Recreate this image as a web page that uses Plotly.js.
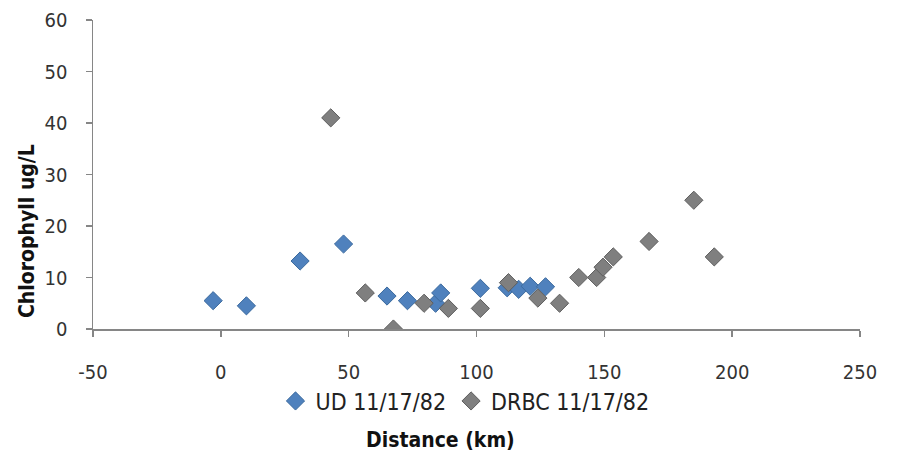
<!DOCTYPE html>
<html>
<head>
<meta charset="utf-8">
<script src="https://cdn.plot.ly/plotly-3.0.1.min.js"></script>
<style>html,body{margin:0;padding:0;background:#fff;}#chart{width:909px;height:456px;}</style>
</head>
<body>
<div id="chart"></div>
<script>
const udName = "UD 11/17/82";
const udX = [-3, 10, 31, 48, 65, 73, 84, 86, 101.5, 112, 116.5, 121, 127];
const udY = [5.5, 4.5, 13.2, 16.5, 6.4, 5.5, 5, 7, 7.9, 8, 7.7, 8.3, 8.2];
const drbcName = "DRBC 11/17/82";
const drbcX = [43, 56.5, 67.5, 79.5, 89, 101.5, 112.5, 124, 132.5, 140, 147, 149.5, 153.5, 167.5, 185, 193];
const drbcY = [41, 7, 0, 5, 4, 4, 9, 6, 5, 10, 10, 12, 14, 17, 25, 14];
const xTickVals = [-50, 0, 50, 100, 150, 200, 250];
const xTickText = ["-50", "0", "50", "100", "150", "200", "250"];
const yTickVals = [0, 10, 20, 30, 40, 50, 60];
const xTitle = "Distance (km)";
const yTitle = "Chlorophyll ug/L";

const FONT = "DejaVu Sans Condensed, DejaVu Sans, sans-serif";
const axisColor = "#868686";

const traces = [
  {x: udX, y: udY, name: udName, type: "scatter", mode: "markers",
   marker: {symbol: "diamond", size: 14, color: "#4F81BD", line: {color: "#3B6A9E", width: 1}}},
  {x: drbcX, y: drbcY, name: drbcName, type: "scatter", mode: "markers",
   marker: {symbol: "diamond", size: 14, color: "#7F7F7F", line: {color: "#5E5E5E", width: 1}}}
];

const layout = {
  width: 909, height: 456,
  margin: {l: 93, r: 49, t: 20, b: 127},
  paper_bgcolor: "#fff", plot_bgcolor: "#fff",
  font: {family: FONT, size: 20, color: "#3a3a3a"},
  showlegend: true,
  legend: {orientation: "h", x: 0.485, xanchor: "center", y: -0.233, yanchor: "middle",
           font: {family: FONT, size: 23, color: "#222"}, itemwidth: 30, tracegroupgap: 0},
  xaxis: {range: [-50, 250], tickvals: xTickVals, ticktext: xTickText, showgrid: false, zeroline: false,
          showline: true, linecolor: axisColor, linewidth: 1.5, ticks: "outside", ticklen: 6, tickcolor: axisColor,
          tickwidth: 1.5, ticklabelstandoff: 18, tickfont: {family: FONT, size: 20, color: "#333"}},
  yaxis: {range: [0, 60], tickvals: yTickVals, showgrid: false, zeroline: false,
          showline: true, linecolor: axisColor, linewidth: 1.5, ticks: "outside", ticklen: 6, tickcolor: axisColor,
          tickwidth: 1.5, ticklabelstandoff: 14, tickfont: {family: FONT, size: 20, color: "#333"}},
  annotations: [
    {text: "<b>" + xTitle + "</b>", xref: "paper", yref: "paper", x: (440 - 93) / 767, y: (329 - 440) / 309,
     xanchor: "center", yanchor: "middle", showarrow: false, font: {family: FONT, size: 21, color: "#111"}},
    {text: "<b>" + yTitle + "</b>", xref: "paper", yref: "paper", x: (27 - 93) / 767, y: (329 - 231) / 309,
     xanchor: "center", yanchor: "middle", textangle: -90, showarrow: false, font: {family: FONT, size: 21, color: "#111"}}
  ]
};

Plotly.newPlot("chart", traces, layout, {displayModeBar: false, staticPlot: true});
</script>
</body>
</html>
